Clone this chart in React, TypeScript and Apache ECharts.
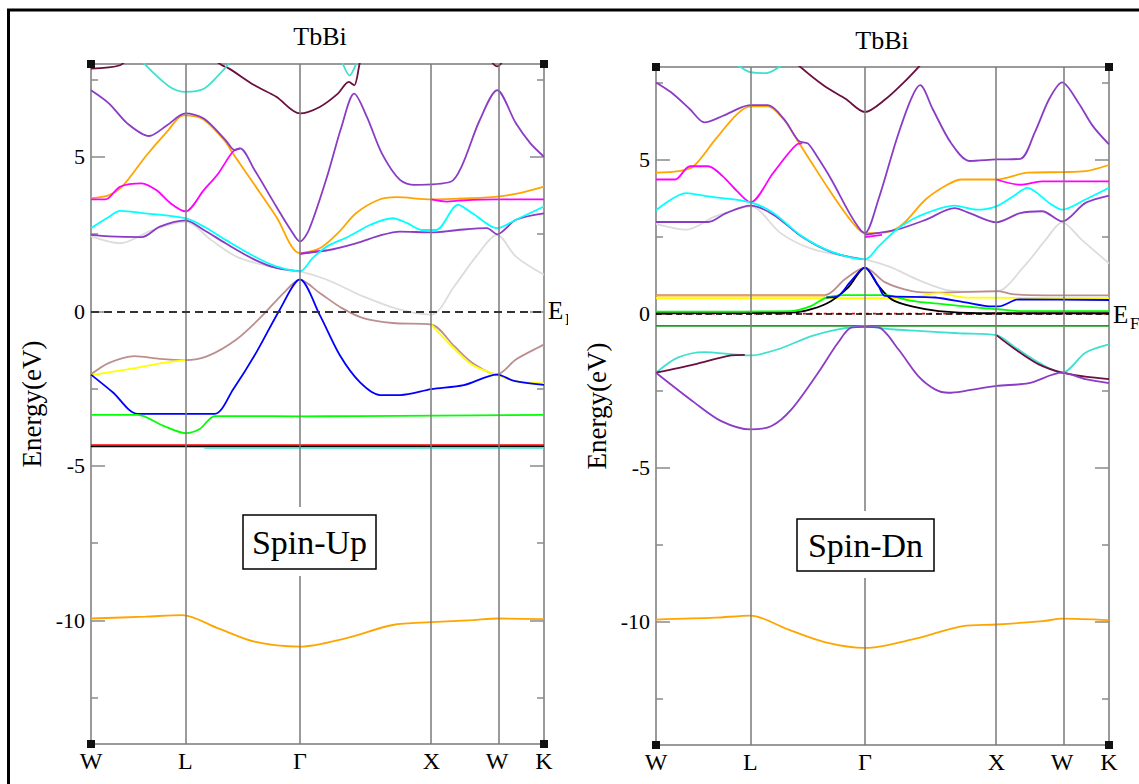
import React, { useEffect, useRef } from 'react';
import * as echarts from 'echarts';

const FONT = "'Liberation Serif', 'DejaVu Serif', 'Times New Roman', serif";

// high-symmetry k positions (fraction of the path) and names
const SYM = [0, 0.2085, 0.4611, 0.7514, 0.8966, 1];
const SYM_LABELS = ['W', 'L', 'Γ', 'X', 'W', 'K'];
const Y_MAJOR = [-10, -5, 0, 5];
const Y_MINOR = [-12.5, -7.5, -2.5, 2.5, 7.5];

// ---------------- Spin-Up bands [k, E(eV)] ----------------
const upGray = [[0, 2.42], [0.064, 2.2], [0.136, 2.63], [0.2085, 2.9], [0.265, 2.31], [0.321, 1.77], [0.393, 1.45], [0.4611, 1.29], [0.521, 1.02], [0.601, 0.48], [0.682, 0.05], [0.7514, -0.11], [0.802, 0.81], [0.85, 1.77], [0.8966, 2.47], [0.938, 1.77], [1, 1.18]];
const upOrangeHi = [[0, 3.66], [0.04, 3.76], [0.072, 4.09], [0.12, 5.0], [0.168, 5.81], [0.204, 6.34], [0.249, 6.2], [0.297, 5.48], [0.313, 5.11], [0.361, 4.09], [0.409, 3.06], [0.4611, 1.88], [0.505, 2.04], [0.545, 2.53], [0.585, 3.17], [0.634, 3.6], [0.674, 3.69], [0.7514, 3.62], [0.842, 3.66], [0.8966, 3.71], [0.946, 3.82], [1, 4.03]];
const upMagenta1 = [[0, 3.62], [0.032, 3.62], [0.064, 4.03], [0.112, 4.14], [0.144, 3.92], [0.176, 3.49], [0.2085, 3.23], [0.249, 3.92], [0.281, 4.46], [0.313, 5.16], [0.329, 5.27]];
const upMagenta2 = [[0.4611, 1.86], [0.497, 1.94], [0.521, 1.97]];
const upMagenta3 = [[0.7514, 3.62], [0.786, 3.55], [0.81, 3.58], [0.8966, 3.62], [1, 3.62]];
const upPurpleLo1 = [[0, 2.47], [0.04, 2.42], [0.112, 2.4], [0.152, 2.74], [0.2085, 2.94], [0.249, 2.63], [0.297, 2.2], [0.361, 1.67], [0.409, 1.4], [0.4611, 1.29]];
const upPurpleLo2 = [[0.4611, 1.86], [0.521, 1.97], [0.585, 2.2], [0.642, 2.47], [0.682, 2.58], [0.7514, 2.55], [0.81, 2.63], [0.874, 2.69], [0.8966, 2.49], [0.938, 2.96], [1, 3.17]];
const upCyanHi = [[0, 2.69], [0.04, 3.06], [0.064, 3.25], [0.12, 3.17], [0.2085, 3.01], [0.249, 2.74], [0.297, 2.31], [0.361, 1.77], [0.409, 1.45], [0.4611, 1.29], [0.489, 1.72], [0.521, 2.1], [0.569, 2.42], [0.617, 2.8], [0.666, 3.01], [0.698, 2.85], [0.73, 2.63], [0.762, 2.63], [0.81, 3.44], [0.842, 3.17], [0.8966, 2.69], [0.938, 2.96], [1, 3.39]];
const upPurpleHi = [[0, 7.15], [0.04, 6.72], [0.08, 6.08], [0.128, 5.67], [0.168, 6.02], [0.2085, 6.4], [0.249, 6.24], [0.297, 5.54], [0.317, 5.22], [0.329, 5.27], [0.361, 4.57], [0.409, 3.39], [0.441, 2.63], [0.4611, 2.26], [0.481, 2.63], [0.521, 4.35], [0.553, 5.97], [0.581, 7.04], [0.609, 6.29], [0.642, 5.11], [0.682, 4.25], [0.714, 4.09], [0.794, 4.19], [0.818, 4.68], [0.858, 6.18], [0.8966, 7.15], [0.938, 6.08], [0.97, 5.43], [1, 5.0]];
const upMaroonTop = [[0, 7.85], [0.064, 7.96], [0.096, 8.3], [0.249, 8.3], [0.289, 7.96], [0.305, 7.85], [0.361, 7.31], [0.409, 6.94], [0.4611, 6.4], [0.505, 6.61], [0.545, 7.04], [0.569, 7.42], [0.581, 7.31], [0.593, 8.01], [0.601, 8.44]];
const upMaroonW = [[0.874, 8.3], [0.8966, 7.92], [0.918, 8.3]];
const upCyanTop = [[0.104, 8.23], [0.136, 7.74], [0.176, 7.24], [0.2085, 7.1], [0.249, 7.2], [0.281, 7.63], [0.301, 7.96], [0.313, 8.23]];
const upCyanTop2 = [[0.553, 8.12], [0.571, 7.63], [0.584, 7.96], [0.589, 8.17]];
const upBrown = [[0, -2.04], [0.04, -1.67], [0.096, -1.45], [0.152, -1.54], [0.2085, -1.58], [0.257, -1.45], [0.321, -0.91], [0.377, -0.16], [0.425, 0.59], [0.4611, 1.02], [0.505, 0.59], [0.553, 0.11], [0.601, -0.22], [0.666, -0.38], [0.7514, -0.43], [0.802, -1.13], [0.842, -1.67], [0.8966, -2.04], [0.938, -1.56], [1, -1.08]];
const upYellow1 = [[0, -2.07], [0.08, -1.88], [0.16, -1.67], [0.2085, -1.58]];
const upYellow2 = [[0.7514, -0.43], [0.802, -1.22], [0.842, -1.74], [0.8966, -2.06], [0.938, -2.26], [1, -2.33]];
const upBlue = [[0, -2.05], [0.048, -2.62], [0.103, -3.32], [0.2085, -3.32], [0.273, -3.32], [0.314, -2.52], [0.365, -1.33], [0.417, 0.06], [0.4611, 1.03], [0.506, -0.15], [0.55, -1.44], [0.594, -2.3], [0.638, -2.71], [0.683, -2.71], [0.7514, -2.52], [0.823, -2.39], [0.8966, -2.05], [0.934, -2.25], [1, -2.38]];
const upGreen = [[0, -3.35], [0.103, -3.35], [0.159, -3.7], [0.2085, -3.94], [0.24, -3.81], [0.273, -3.39], [0.336, -3.39], [0.4611, -3.4], [0.587, -3.39], [1, -3.35]];
const upBlackF = [[0, -4.37], [1, -4.37]];
const upRedF = [[0, -4.33], [1, -4.33]];
const upCyanF = [[0.25, -4.42], [1, -4.42]];
const upOrangeLo = [[0, -9.94], [0.12, -9.88], [0.201, -9.83], [0.281, -10.26], [0.361, -10.69], [0.4611, -10.85], [0.562, -10.58], [0.666, -10.15], [0.7514, -10.06], [0.843, -9.99], [0.8966, -9.94], [1, -9.96]];

// ---------------- Spin-Dn bands [k, E(eV)] ----------------
const dnGray = [[0, 2.91], [0.067, 2.72], [0.131, 3.15], [0.2085, 3.48], [0.275, 2.61], [0.339, 2.12], [0.403, 1.9], [0.4611, 1.76], [0.515, 1.52], [0.579, 1.09], [0.643, 0.76], [0.708, 0.71], [0.7514, 0.71], [0.812, 1.52], [0.86, 2.39], [0.8966, 2.96], [0.94, 2.39], [1, 1.63]];
const dnOrangeHi = [[0, 4.57], [0.05, 4.62], [0.083, 4.78], [0.131, 5.65], [0.179, 6.47], [0.2085, 6.72], [0.247, 6.72], [0.283, 6.28], [0.311, 5.65], [0.339, 5.0], [0.387, 3.91], [0.435, 2.93], [0.4611, 2.61], [0.515, 2.66], [0.547, 2.93], [0.595, 3.7], [0.643, 4.18], [0.675, 4.35], [0.7514, 4.35], [0.82, 4.57], [0.8966, 4.59], [0.948, 4.62], [1, 4.82]];
const dnMagenta1 = [[0, 4.35], [0.042, 4.35], [0.075, 4.78], [0.115, 4.78], [0.147, 4.46], [0.179, 3.97], [0.2085, 3.61], [0.259, 4.57], [0.311, 5.49], [0.323, 5.52]];
const dnMagenta2 = [[0.4611, 2.48], [0.499, 2.55]];
const dnMagenta3 = [[0.7514, 4.35], [0.804, 4.18], [0.852, 4.29], [0.8966, 4.29], [1, 4.29]];
const dnPurpleLo1 = [[0, 2.97], [0.115, 2.97], [0.155, 3.26], [0.2085, 3.5], [0.259, 3.21], [0.323, 2.48], [0.387, 1.99], [0.455, 1.76]];
const dnPurpleLo2 = [[0.4611, 2.55], [0.531, 2.72], [0.595, 3.04], [0.659, 3.42], [0.692, 3.26], [0.7514, 2.96], [0.804, 3.26], [0.852, 3.32], [0.8966, 2.99], [0.948, 3.59], [1, 3.83]];
const dnCyanHi = [[0, 3.35], [0.067, 3.91], [0.115, 3.8], [0.2085, 3.61], [0.259, 3.26], [0.323, 2.5], [0.387, 2.01], [0.4611, 1.76], [0.491, 2.17], [0.531, 2.72], [0.579, 3.15], [0.659, 3.5], [0.708, 3.37], [0.7514, 3.48], [0.788, 3.8], [0.82, 4.08], [0.868, 3.59], [0.8966, 3.37], [0.948, 3.7], [1, 4.08]];
const dnPurpleHi = [[0, 7.5], [0.034, 7.17], [0.075, 6.63], [0.107, 6.2], [0.147, 6.41], [0.187, 6.68], [0.2085, 6.76], [0.247, 6.76], [0.283, 6.3], [0.315, 5.6], [0.335, 5.52], [0.355, 5.11], [0.387, 4.35], [0.427, 3.26], [0.451, 2.72], [0.4611, 2.61], [0.491, 3.7], [0.531, 5.65], [0.563, 6.96], [0.583, 7.41], [0.611, 6.63], [0.651, 5.54], [0.692, 4.95], [0.7514, 5.0], [0.804, 5.02], [0.836, 5.87], [0.868, 6.96], [0.8966, 7.5], [0.932, 6.85], [0.964, 6.09], [1, 5.49]];
const dnMaroonTop = [[0.3, 8.3], [0.311, 8.1], [0.371, 7.39], [0.419, 6.96], [0.4611, 6.54], [0.507, 6.96], [0.547, 7.5], [0.579, 7.99], [0.591, 8.2]];
const dnCyanTop = [[0.163, 8.2], [0.187, 7.99], [0.2085, 7.83], [0.243, 7.8], [0.271, 7.99], [0.283, 8.2]];
const dnOrangeMid = [[0, 0.58], [0.373, 0.58]];
const dnYellow = [[0, 0.5], [0.373, 0.5], [0.48, 0.5], [0.565, 0.52], [0.624, 0.66], [0.683, 0.52], [1, 0.5]];
const dnBrown = [[0, 0.6], [0.373, 0.6], [0.417, 1.11], [0.4611, 1.49], [0.506, 1.01], [0.565, 0.73], [0.624, 0.68], [0.756, 0.73], [0.786, 0.63], [0.86, 0.59], [1, 0.59]];
const dnRed0 = [[0, 0], [1, 0]];
const dnGreen = [[0, 0.06], [0.299, 0.08], [0.343, 0.25], [0.376, 0.52], [0.417, 0.6], [0.506, 0.6], [0.565, 0.41], [0.638, 0.3], [0.712, 0.19], [0.756, 0.14], [0.801, 0.08], [1, 0.08]];
const dnBlack = [[0, 0.01], [0.299, 0.03], [0.343, 0.14], [0.387, 0.41], [0.424, 0.84], [0.4611, 1.49], [0.491, 0.9], [0.52, 0.46], [0.565, 0.23], [0.624, 0.08], [0.712, 0.01], [1, 0.01]];
const dnBlue = [[0.376, 0.52], [0.402, 0.57], [0.428, 1.01], [0.4611, 1.49], [0.491, 0.9], [0.506, 0.57], [0.616, 0.52], [0.683, 0.36], [0.742, 0.23], [0.756, 0.23], [0.801, 0.46], [1, 0.44]];
const dnDarkGreen = [[0, -0.4], [1, -0.4]];
const dnCyanVal = [[0, -1.92], [0.048, -1.43], [0.107, -1.25], [0.166, -1.32], [0.2085, -1.36], [0.269, -1.16], [0.343, -0.73], [0.402, -0.51], [0.4611, -0.42], [0.52, -0.51], [0.579, -0.56], [0.668, -0.64], [0.7514, -0.7], [0.793, -1.1], [0.845, -1.59], [0.8966, -1.92], [0.948, -1.27], [1, -1.0]];
const dnMaroonVal1 = [[0, -1.92], [0.085, -1.65], [0.166, -1.36], [0.196, -1.34]];
const dnMaroonVal2 = [[0.7514, -0.7], [0.793, -1.16], [0.845, -1.65], [0.8966, -1.92], [0.948, -2.05], [1, -2.13]];
const dnPurpleVal = [[0, -1.92], [0.085, -2.89], [0.144, -3.49], [0.2085, -3.76], [0.255, -3.65], [0.299, -3.11], [0.358, -1.92], [0.402, -0.94], [0.432, -0.45], [0.4611, -0.43], [0.491, -0.45], [0.535, -1.16], [0.579, -2.03], [0.616, -2.46], [0.646, -2.57], [0.683, -2.51], [0.7514, -2.35], [0.823, -2.26], [0.8966, -1.92], [0.948, -2.13], [1, -2.26]];
const dnOrangeLo = [[0, -9.93], [0.131, -9.87], [0.2085, -9.8], [0.291, -10.25], [0.372, -10.66], [0.4611, -10.85], [0.573, -10.55], [0.677, -10.14], [0.7514, -10.09], [0.854, -9.98], [0.8966, -9.9], [1, -9.95]];

const C = {
  gray: '#dcdcdc', orange: '#ffa500', magenta: '#ff00ff', cyan: '#00ffff', turq: '#40e0d0',
  purple: '#8a3cc6', maroon: '#6b0f3f', brown: '#bc8f8f', yellow: '#ffff00', blue: '#0000ff',
  green: '#00ff00', red: '#ff0000', black: '#000000', dgreen: '#1f9a1f',
};

const GRIDS = [
  { left: 91, top: 64, width: 453, height: 680 },
  { left: 656, top: 67, width: 453, height: 678 },
];

function band(data: number[][], color: string, g: number, extra: any = {}) {
  return {
    type: 'line', xAxisIndex: g, yAxisIndex: g * 4, data, showSymbol: false, symbol: 'none',
    smooth: 0.3, silent: true, z: 3, lineStyle: { color, width: 1.8, ...(extra.lineStyle || {}) },
  };
}

function labelFor(v: number) {
  let best = 0;
  SYM.forEach((s, i) => { if (Math.abs(s - v) < Math.abs(SYM[best] - v)) best = i; });
  return SYM_LABELS[best];
}

function yAxes(g: number) {
  const base = { gridIndex: g, type: 'value', min: -14, max: 8, axisLine: { show: false }, splitLine: { show: false } };
  const tickStyle = { color: '#8a8a8a', width: 1.5 };
  return [
    {
      ...base, position: 'left', name: 'Energy(eV)', nameLocation: 'middle', nameRotate: 90, nameGap: 46,
      nameTextStyle: { fontSize: 27, fontFamily: FONT, color: '#000' },
      axisTick: { show: true, inside: true, length: 14, customValues: Y_MAJOR, lineStyle: tickStyle },
      axisLabel: { show: true, customValues: Y_MAJOR, fontSize: 22, fontFamily: FONT, color: '#000', margin: 6, formatter: (v: number) => String(v) },
    },
    { ...base, position: 'left', axisTick: { show: true, inside: true, length: 7, customValues: Y_MINOR, lineStyle: tickStyle }, axisLabel: { show: false } },
    { ...base, position: 'right', axisTick: { show: true, inside: true, length: 14, customValues: Y_MAJOR, lineStyle: tickStyle }, axisLabel: { show: false } },
    { ...base, position: 'right', axisTick: { show: true, inside: true, length: 7, customValues: Y_MINOR, lineStyle: tickStyle }, axisLabel: { show: false } },
  ];
}

function guideSeries(g: number, dash: number[], dashWidth: number, dashColor: string) {
  return [
    {
      type: 'line', xAxisIndex: g, yAxisIndex: g * 4, data: [], z: 1, silent: true,
      markLine: {
        silent: true, symbol: ['none', 'none'], label: { show: false },
        lineStyle: { color: '#7a7a7a', width: 1.5, type: 'solid' },
        data: SYM.slice(1, 5).map((v) => ({ xAxis: v })),
      },
    },
    {
      type: 'line', xAxisIndex: g, yAxisIndex: g * 4, data: [], z: 6, silent: true,
      markLine: {
        silent: true, symbol: ['none', 'none'], label: { show: false },
        lineStyle: { color: dashColor, width: dashWidth, type: dash },
        data: [{ yAxis: 0 }],
      },
    },
  ];
}

function corners(g: number) {
  const { left, top, width, height } = GRIDS[g];
  const pts = [[left, top], [left + width, top], [left, top + height], [left + width, top + height]];
  return pts.map(([x, y]) => ({ type: 'rect', z: 100, shape: { x: x - 4, y: y - 4, width: 8, height: 8 }, style: { fill: '#111' } }));
}

function textEl(text: string, x: number, y: number, size: number, align = 'center') {
  return {
    type: 'text', z: 120, x, y,
    style: {
      text, font: `${size}px ${FONT}`, textFont: `${size}px ${FONT}`, fill: '#000',
      align, textAlign: align, verticalAlign: 'middle', textVerticalAlign: 'middle',
    },
  };
}

function buildOption() {
  const series: any[] = [
    ...guideSeries(0, [8, 5], 2.2, '#333'),
    ...guideSeries(1, [6, 4], 1.5, '#000'),
    band(upGray, C.gray, 0), band(upOrangeHi, C.orange, 0),
    band(upMagenta1, C.magenta, 0), band(upMagenta2, C.magenta, 0), band(upMagenta3, C.magenta, 0),
    band(upPurpleLo1, C.purple, 0), band(upPurpleLo2, C.purple, 0), band(upCyanHi, C.cyan, 0),
    band(upPurpleHi, C.purple, 0), band(upMaroonTop, C.maroon, 0), band(upMaroonW, C.maroon, 0),
    band(upCyanTop, C.turq, 0), band(upCyanTop2, C.turq, 0), band(upBrown, C.brown, 0),
    band(upYellow1, C.yellow, 0), band(upYellow2, C.yellow, 0), band(upBlue, C.blue, 0),
    band(upGreen, C.green, 0), band(upBlackF, C.black, 0), band(upCyanF, C.turq, 0),
    band(upRedF, C.red, 0), band(upOrangeLo, C.orange, 0),

    band(dnGray, C.gray, 1), band(dnOrangeHi, C.orange, 1),
    band(dnMagenta1, C.magenta, 1), band(dnMagenta2, C.magenta, 1), band(dnMagenta3, C.magenta, 1),
    band(dnPurpleLo1, C.purple, 1), band(dnPurpleLo2, C.purple, 1), band(dnCyanHi, C.cyan, 1),
    band(dnPurpleHi, C.purple, 1), band(dnMaroonTop, C.maroon, 1), band(dnCyanTop, C.turq, 1),
    band(dnBrown, C.brown, 1), band(dnYellow, C.yellow, 1), band(dnOrangeMid, C.orange, 1),
    band(dnRed0, C.red, 1, { lineStyle: { type: [3, 4] } }), band(dnBlack, C.black, 1),
    band(dnGreen, C.green, 1), band(dnBlue, C.blue, 1), band(dnDarkGreen, C.dgreen, 1),
    band(dnCyanVal, C.turq, 1), band(dnMaroonVal1, C.maroon, 1), band(dnMaroonVal2, C.maroon, 1),
    band(dnPurpleVal, C.purple, 1), band(dnOrangeLo, C.orange, 1),
  ];

  const graphic: any[] = [
    { type: 'rect', z: 90, shape: { x: 8.5, y: 10, width: 1300, height: 1000 }, style: { fill: 'none', stroke: '#000', lineWidth: 3 } },
    ...corners(0), ...corners(1),
    textEl('TbBi', 320, 36, 26), textEl('TbBi', 882, 40, 26),
    // Spin-Up box
    { type: 'rect', z: 110, shape: { x: 292, y: 507, width: 16, height: 69 }, style: { fill: '#fff' } },
    { type: 'rect', z: 111, shape: { x: 243, y: 515, width: 133, height: 54 }, style: { fill: '#fff', stroke: '#000', lineWidth: 1.5 } },
    textEl('Spin-Up', 309.5, 542, 34),
    // Spin-Dn box
    { type: 'rect', z: 110, shape: { x: 857, y: 511, width: 16, height: 67 }, style: { fill: '#fff' } },
    { type: 'rect', z: 111, shape: { x: 797, y: 519, width: 137, height: 52 }, style: { fill: '#fff', stroke: '#000', lineWidth: 1.5 } },
    textEl('Spin-Dn', 865.5, 545, 34),
    // Fermi level labels
    textEl('E', 548, 310, 25, 'left'), textEl('F', 565, 319, 17, 'left'),
    { type: 'rect', z: 125, shape: { x: 568, y: 298, width: 30, height: 36 }, style: { fill: '#fff' } },
    textEl('E', 1113, 314, 25, 'left'), textEl('F', 1130, 323, 17, 'left'),
  ];

  return {
    animation: false,
    backgroundColor: '#ffffff',
    grid: GRIDS.map((g) => ({ ...g, show: true, borderColor: '#7a7a7a', borderWidth: 1.5, backgroundColor: 'transparent' })),
    xAxis: [0, 1].map((g) => ({
      type: 'value', gridIndex: g, min: 0, max: 1,
      axisLine: { show: false }, axisTick: { show: false }, splitLine: { show: false },
      axisLabel: { show: true, customValues: SYM, formatter: labelFor, fontSize: 24, fontFamily: FONT, color: '#000', margin: 5 },
    })),
    yAxis: [...yAxes(0), ...yAxes(1)],
    series,
    graphic: { elements: graphic },
  };
}

export default function App() {
  const ref = useRef<HTMLDivElement>(null);
  useEffect(() => {
    document.body.style.margin = '0';
    const chart = echarts.init(ref.current as HTMLDivElement, null, { renderer: 'svg' });
    chart.setOption(buildOption() as any);
    return () => chart.dispose();
  }, []);
  return <div ref={ref} style={{ width: 1139, height: 784, background: '#fff' }} />;
}
